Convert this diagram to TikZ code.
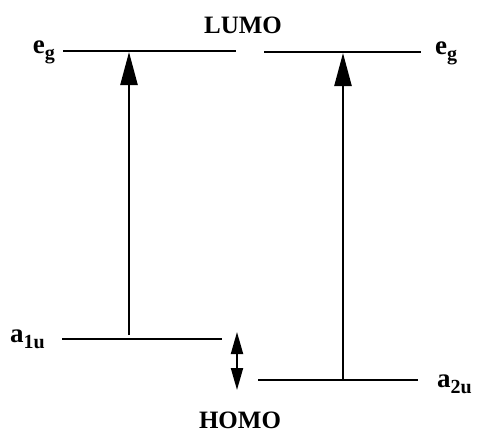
\documentclass[tikz,border=0pt]{standalone}
\usepackage{fontspec}
\setmainfont{Liberation Serif}
\usetikzlibrary{arrows.meta}
\newcommand{\orb}[2]{\textbf{#1}\raisebox{-6pt}{\fontsize{20}{20}\selectfont\bfseries #2}}
\begin{document}
\begin{tikzpicture}[x=1pt,y=-1pt,
  level/.style={line width=1.8pt},
  trans/.style={line width=2.4pt,-{Triangle[length=33pt,width=17pt]}},
  gap/.style={line width=2pt,{Triangle[length=22pt,width=12pt]}-{Triangle[length=22pt,width=12pt]}},
  lbl/.style={font=\fontsize{27}{27}\selectfont\bfseries,inner sep=0pt},
  tag/.style={font=\fontsize{25}{25}\selectfont\bfseries,inner sep=0pt}]
\useasboundingbox (0,0) rectangle (483,434);
% levels
\coordinate (egL1) at (63,51);
\coordinate (egL2) at (236,51);
\coordinate (egR1) at (264,52);
\coordinate (egR2) at (421,52);
\coordinate (a1L) at (62,339);
\coordinate (a1R) at (222,339);
\coordinate (a2L) at (258,380);
\coordinate (a2R) at (418,380);
\draw[level] (egL1) -- (egL2);
\draw[level] (egR1) -- (egR2);
\draw[level] (a1L) -- (a1R);
\draw[level] (a2L) -- (a2R);
% labels
\node[lbl,anchor=base east] (egLlab) at (55,53) {\orb{e}{g}};
\node[lbl,anchor=base west] (egRlab) at (435,54) {\orb{e}{g}};
\node[lbl,anchor=base west] (a1lab) at (10,342) {\orb{a}{1u}};
\node[lbl,anchor=base west] (a2lab) at (437,387) {\orb{a}{2u}};
\node[tag,anchor=base] (lumo) at (243,33) {LUMO};
\node[tag,anchor=base] (homo) at (240,428) {HOMO};
% transitions
\coordinate (t1s) at (129,335);
\coordinate (t1e) at (129,52);
\coordinate (t2s) at (343,380);
\coordinate (t2e) at (343,53);
\draw[trans] (t1s) -- (t1e);
\draw[trans] (t2s) -- (t2e);
\coordinate (g1) at (237,332);
\coordinate (g2) at (237,390);
\draw[gap] (g1) -- (g2);
\end{tikzpicture}
\end{document}
